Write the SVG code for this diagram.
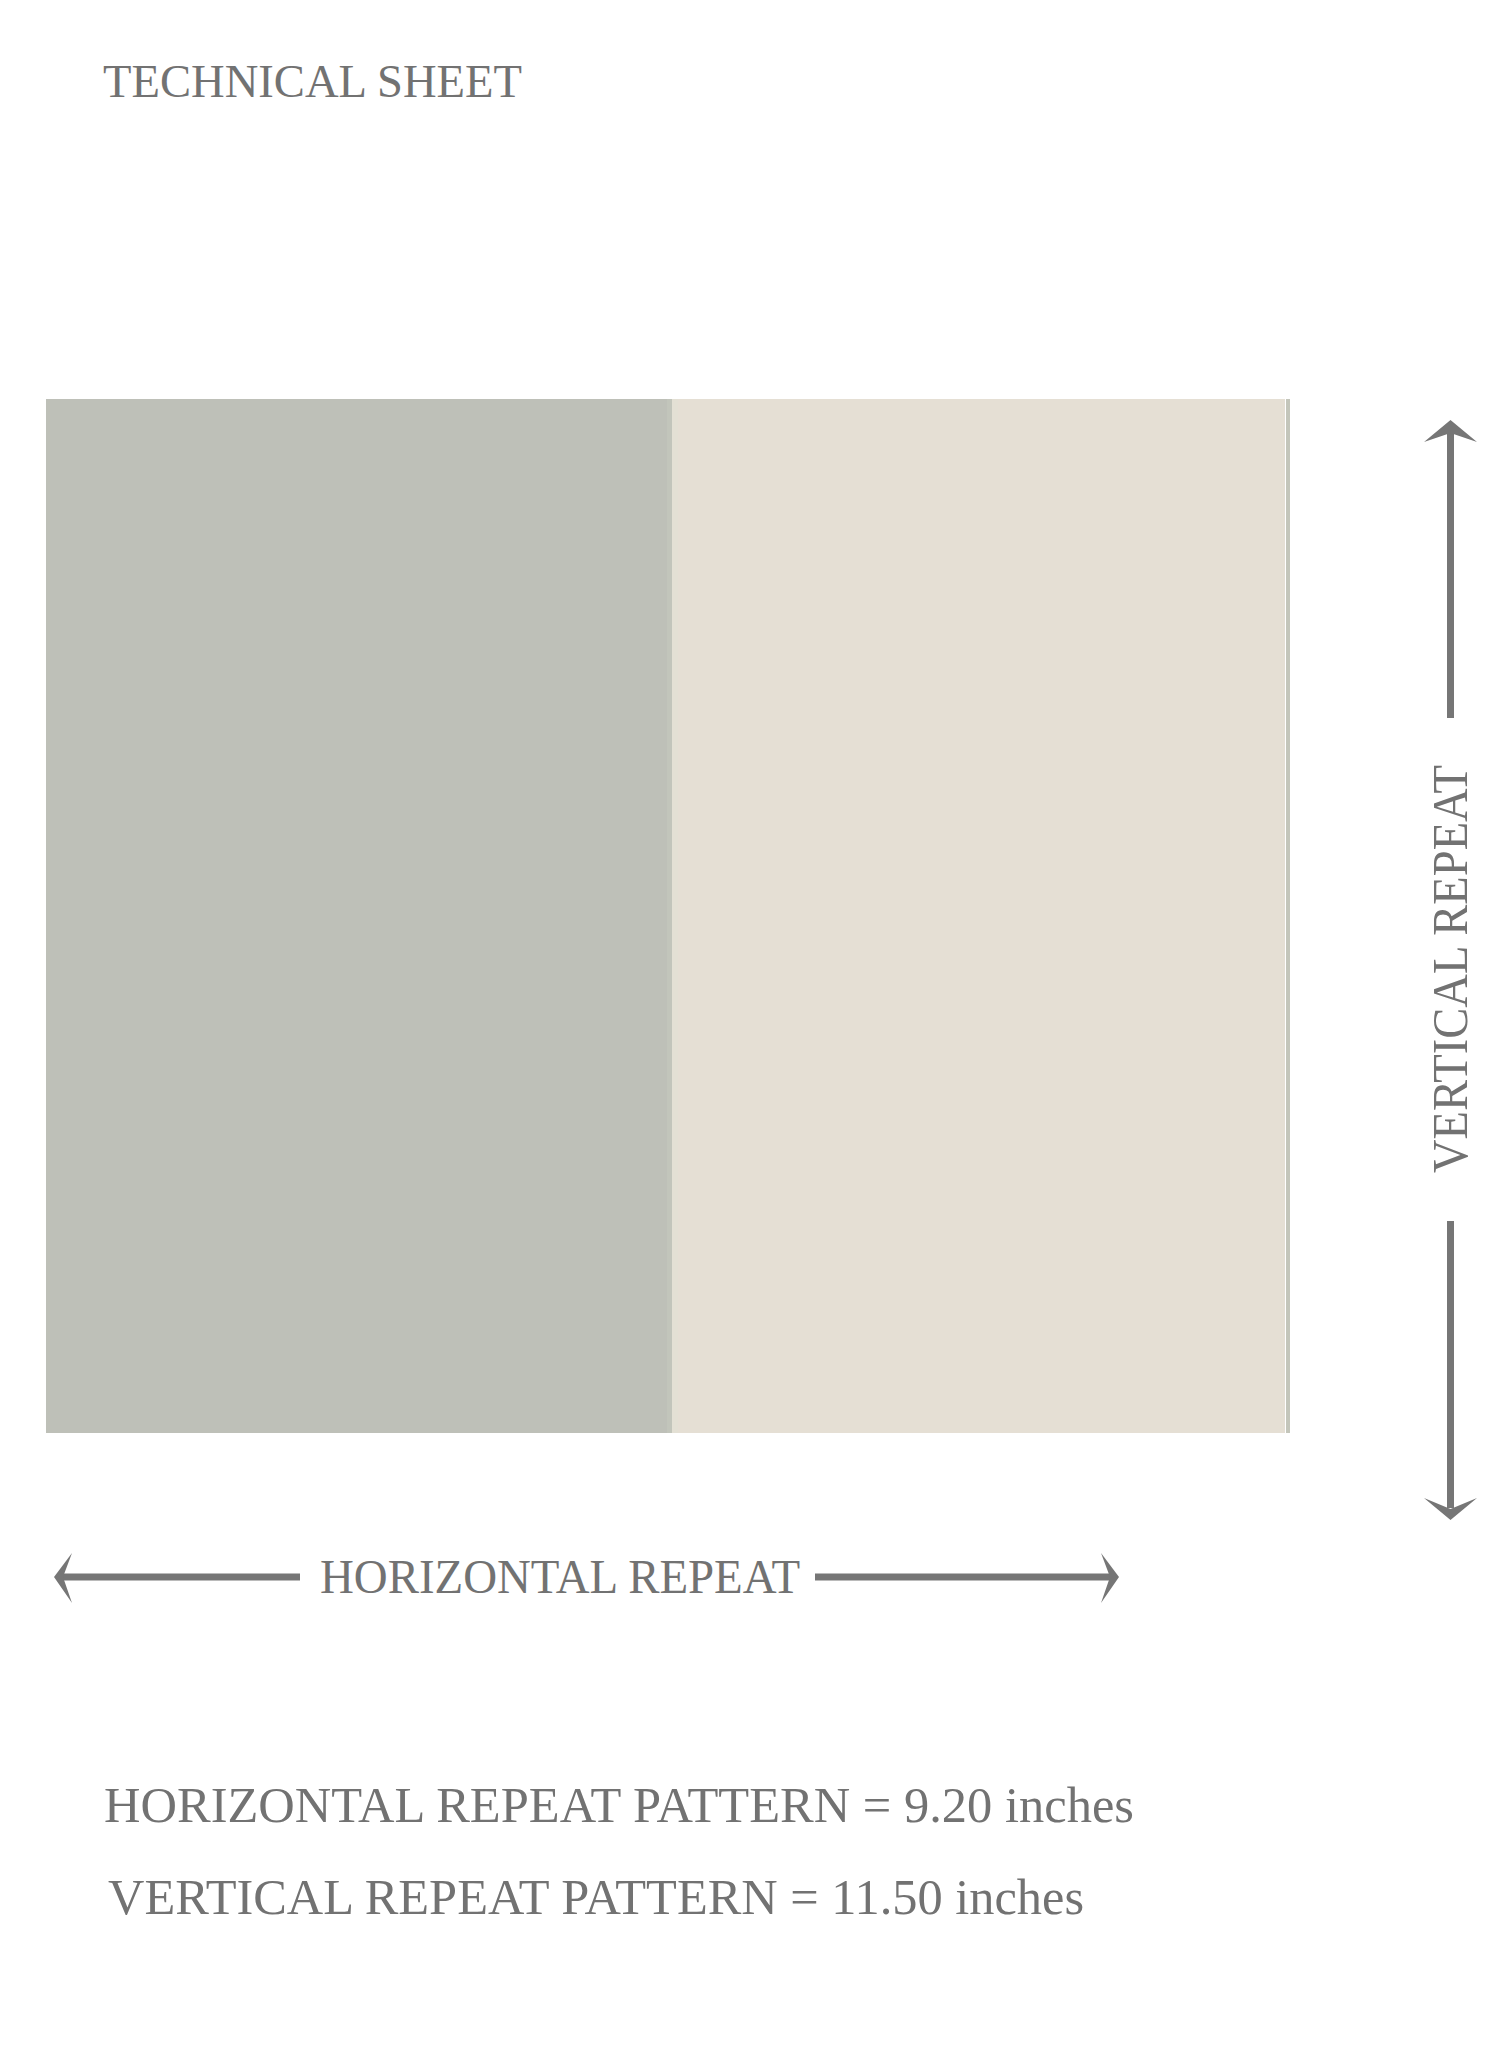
<svg xmlns="http://www.w3.org/2000/svg" width="1500" height="2063" viewBox="0 0 1500 2063">
  <style>
    .lbl { font-family: "Liberation Serif", "Times New Roman", serif; fill: #727272; }
    .ln { stroke: #767676; stroke-width: 7; fill: none; }
    .hd { fill: #767676; stroke: none; }
  </style>
  <rect x="0" y="0" width="1500" height="2063" fill="#ffffff"/>
  <g id="title">
    <text class="lbl" x="103" y="97" font-size="47" textLength="419" lengthAdjust="spacingAndGlyphs">TECHNICAL SHEET</text>
  </g>
  <g id="pattern">
    <rect x="46" y="399" width="626" height="1034" fill="#bec0b8"/>
    <rect x="667" y="399" width="5" height="1034" fill="#c2c5bb"/>
    <rect x="672" y="399" width="613" height="1034" fill="#e5dfd4"/>
    <rect x="672" y="399" width="6" height="1034" fill="#e3e0d4"/>
    <rect x="1286" y="399" width="4" height="1034" fill="#c4c6bb"/>
  </g>
  <g id="connectors">
    <g id="vertical-arrow">
      <line class="ln" x1="1450.5" y1="432" x2="1450.5" y2="718"/>
      <path class="hd" d="M1450.5,420 L1477,442 L1450.5,433 L1424,442 Z"/>
      <line class="ln" x1="1450.5" y1="1221" x2="1450.5" y2="1508"/>
      <path class="hd" d="M1450.5,1520 L1477,1498 L1450.5,1509 L1424,1498 Z"/>
    </g>
    <g id="horizontal-arrow">
      <line class="ln" x1="62" y1="1577" x2="300" y2="1577" stroke-width="8"/>
      <path class="hd" d="M54,1577 L72,1553 L63,1577 L72,1603 Z"/>
      <line class="ln" x1="815" y1="1577" x2="1110" y2="1577" stroke-width="8"/>
      <path class="hd" d="M1119,1577 L1101,1553 L1110,1577 L1101,1603 Z"/>
    </g>
  </g>
  <g id="vertical-label">
    <text class="lbl" x="0" y="0" font-size="50" textLength="408" lengthAdjust="spacingAndGlyphs" transform="translate(1467,1173) rotate(-90)">VERTICAL REPEAT</text>
  </g>
  <g id="horizontal-label">
    <text class="lbl" x="320" y="1593" font-size="48" textLength="480" lengthAdjust="spacingAndGlyphs">HORIZONTAL REPEAT</text>
  </g>
  <g id="specs">
    <text class="lbl" x="104" y="1822" font-size="50" textLength="1030" lengthAdjust="spacingAndGlyphs">HORIZONTAL REPEAT PATTERN = 9.20 inches</text>
    <text class="lbl" x="108" y="1914" font-size="50" textLength="976" lengthAdjust="spacingAndGlyphs">VERTICAL REPEAT PATTERN = 11.50 inches</text>
  </g>
</svg>
